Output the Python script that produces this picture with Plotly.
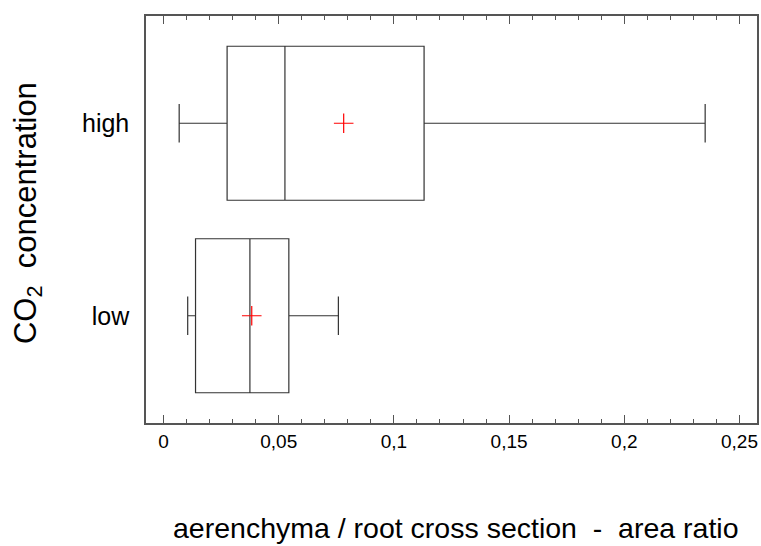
import plotly.graph_objects as go

categories = ["high", "low"]
q1_vals = [0.0276, 0.0139]
median_vals = [0.0527, 0.0375]
q3_vals = [0.1131, 0.0544]
lower_vals = [0.0068, 0.0105]
upper_vals = [0.2351, 0.0759]
mean_vals = [0.0782, 0.0383]

x_tickvals = [0, 0.05, 0.1, 0.15, 0.2, 0.25]
x_ticktext = ["0", "0,05", "0,1", "0,15", "0,2", "0,25"]

FONT = "Liberation Sans, Arial, sans-serif"
FRAME = "#555555"

fig = go.Figure()
fig.add_trace(go.Box(
    y=categories, q1=q1_vals, median=median_vals, q3=q3_vals,
    lowerfence=lower_vals, upperfence=upper_vals,
    orientation="h", boxpoints=False, width=0.8, whiskerwidth=0.25,
    line=dict(color="#333333", width=1.2), fillcolor="rgba(255,255,255,0)",
    showlegend=False, hoverinfo="skip",
))
fig.add_trace(go.Scatter(
    x=mean_vals, y=categories, mode="markers",
    marker=dict(symbol="cross-thin", size=14, line=dict(color="red", width=1.2)),
    showlegend=False, hoverinfo="skip",
))

fig.update_layout(
    width=761, height=546,
    margin=dict(l=146, r=2, t=16, b=123),
    paper_bgcolor="white", plot_bgcolor="white",
    font=dict(family=FONT, color="black"),
    xaxis=dict(
        range=[-0.0076, 0.2576], tickvals=x_tickvals, ticktext=x_ticktext,
        ticks="inside", ticklen=8, tickwidth=1.2, tickcolor=FRAME,
        minor=dict(ticks="inside", ticklen=4, dtick=0.01, tick0=0, tickcolor=FRAME, tickwidth=1.2),
        showline=True, linecolor=FRAME, linewidth=1.5, mirror="ticks",
        showgrid=False, zeroline=False, tickfont=dict(size=19, family=FONT),
        ticklabelstandoff=0,
    ),
    yaxis=dict(
        type="category", categoryorder="array", categoryarray=["low", "high"],
        range=[-0.557, 1.557],
        ticks="outside", ticklen=10, tickcolor="rgba(0,0,0,0)",
        showline=True, linecolor=FRAME, linewidth=1.5, mirror=True,
        showgrid=False, zeroline=False, tickfont=dict(size=25, family=FONT),
    ),
    annotations=[
        dict(text="aerenchyma / root cross section  -  area ratio",
             xref="paper", yref="paper", x=0.507, y=-0.257,
             xanchor="center", yanchor="middle", showarrow=False,
             font=dict(size=28.5, family=FONT, color="black")),
        dict(text="CO<sub>2</sub>  concentration",
             xref="paper", yref="paper", x=-0.194, y=0.517,
             xanchor="center", yanchor="middle", showarrow=False, textangle=-90,
             font=dict(size=31, family=FONT, color="black")),
    ],
)

fig.write_html("out.html", config={"displayModeBar": False},
               post_script="document.body.style.margin='0';")
